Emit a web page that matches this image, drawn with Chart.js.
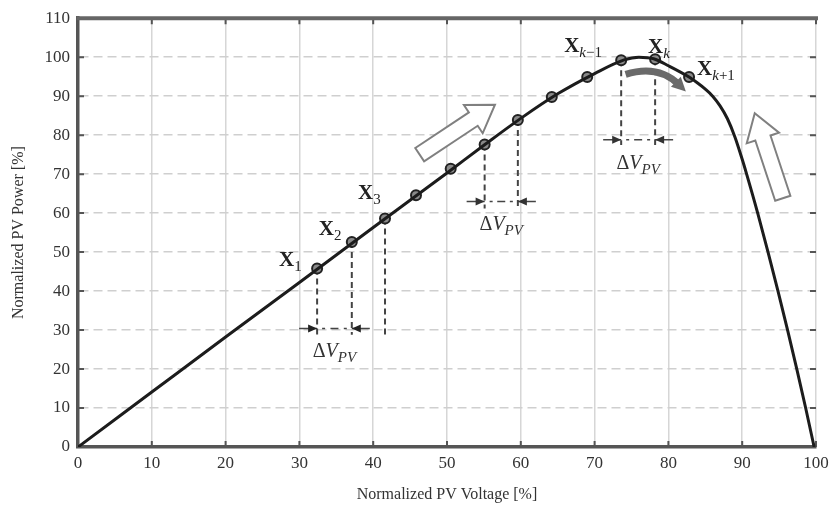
<!DOCTYPE html>
<html>
<head>
<meta charset="utf-8">
<script src="https://cdn.jsdelivr.net/npm/chart.js@4/dist/chart.umd.min.js"></script>
<style>
  body { margin: 0; background: #fff; }
  #wrap { width: 837px; height: 517px; }
</style>
</head>
<body>
<div id="wrap"><canvas id="pv-chart" width="837" height="517"></canvas></div>
<script>
// P-V curve
const voltage = [0, 10, 20, 30, 40, 50, 55, 60, 65, 70, 74, 76, 78, 80, 82.8, 84, 85, 86, 87, 88, 89, 90, 90.6, 92.1, 93.5, 94.85, 96.15, 97.4, 98.6, 99.75];
const power = [0, 14.1, 28.2, 42.2, 56.3, 70.3, 77.4, 84.3, 90.6, 95.8, 99.3, 100, 99.6, 97.8, 94.9, 93.3, 91.8, 90, 87.5, 84.2, 79.6, 73.8, 70, 60, 50, 40, 30, 20, 10, 0];

// operating points of the perturb & observe steps
const stepV = [32.4, 37.1, 41.6, 45.8, 50.5, 55.1, 59.6, 64.2, 69.0, 73.6, 78.2, 82.8];
const stepP = [45.8, 52.6, 58.6, 64.6, 71.4, 77.6, 83.9, 89.8, 94.9, 99.2, 99.5, 94.9];
const stepNames = ["1", "2", "3", "", "", "", "", "", "", "k\u22121", "k", "k+1"];

// delta-V markers: first point, second point, arrow level, dashed line end, extra dashed points
const deltaMarks = [
  { a: 0, b: 1, level: 30.4, end: 28.8, extra: [2] },
  { a: 5, b: 6, level: 63.0, end: 61.2, extra: [] },
  { a: 9, b: 10, level: 78.8, end: 77.5, extra: [] }
];

const xTicks = [0, 10, 20, 30, 40, 50, 60, 70, 80, 90, 100];
const yTicks = [0, 10, 20, 30, 40, 50, 60, 70, 80, 90, 100, 110];

const serif = "'Liberation Serif', 'DejaVu Serif', serif";

function drawXLabel(ctx, x, y, sub) {
  ctx.font = "bold 21px " + serif;
  ctx.fillStyle = "#222";
  ctx.textAlign = "left";
  ctx.textBaseline = "alphabetic";
  ctx.fillText("X", x, y);
  let sx = x + ctx.measureText("X").width;
  // k is italic, digits and signs upright
  for (const ch of sub) {
    ctx.font = (ch === "k" ? "italic " : "") + "15px " + serif;
    ctx.fillText(ch, sx, y + 5);
    sx += ctx.measureText(ch).width;
  }
}

function drawDeltaLabel(ctx, cx, y) {
  ctx.fillStyle = "#333";
  ctx.textBaseline = "alphabetic";
  ctx.font = "20px " + serif;
  const d = ctx.measureText("\u0394").width;
  ctx.font = "italic 20px " + serif;
  const v = ctx.measureText("V").width;
  ctx.font = "italic 15px " + serif;
  const s = ctx.measureText("PV").width;
  const x = cx - (d + v + s) / 2;
  ctx.textAlign = "left";
  ctx.font = "20px " + serif;
  ctx.fillText("\u0394", x, y);
  ctx.font = "italic 20px " + serif;
  ctx.fillText("V", x + d, y);
  ctx.font = "italic 15px " + serif;
  ctx.fillText("PV", x + d + v, y + 5);
}

function arrowHead(ctx, tipX, tipY, dir) {
  ctx.beginPath();
  ctx.moveTo(tipX, tipY);
  ctx.lineTo(tipX - dir * 9, tipY - 4);
  ctx.lineTo(tipX - dir * 9, tipY + 4);
  ctx.closePath();
  ctx.fill();
}

function blockArrow(ctx, x0, y0, x1, y1) {
  const ang = Math.atan2(y1 - y0, x1 - x0);
  const len = Math.hypot(x1 - x0, y1 - y0);
  const headL = 26, shaft = 8, head = 17;
  ctx.save();
  ctx.translate(x0, y0);
  ctx.rotate(ang);
  ctx.beginPath();
  ctx.moveTo(0, -shaft);
  ctx.lineTo(len - headL, -shaft);
  ctx.lineTo(len - headL, -head);
  ctx.lineTo(len, 0);
  ctx.lineTo(len - headL, head);
  ctx.lineTo(len - headL, shaft);
  ctx.lineTo(0, shaft);
  ctx.closePath();
  ctx.fillStyle = "#fff";
  ctx.fill();
  ctx.strokeStyle = "#808080";
  ctx.lineWidth = 2;
  ctx.stroke();
  ctx.restore();
}

const annotations = {
  id: "annotations",
  beforeDatasetsDraw(chart) {
    const { ctx, chartArea: a } = chart;
    const tx = chart.scales.x, ty = chart.scales.y;
    ctx.save();
    // small inner ticks on all sides
    ctx.strokeStyle = "#555";
    ctx.lineWidth = 2;
    xTicks.forEach(v => {
      const px = tx.getPixelForValue(v);
      ctx.beginPath();
      ctx.moveTo(px, a.top); ctx.lineTo(px, a.top + 6);
      ctx.moveTo(px, a.bottom); ctx.lineTo(px, a.bottom - 6);
      ctx.stroke();
    });
    yTicks.forEach(v => {
      const py = ty.getPixelForValue(v);
      ctx.beginPath();
      ctx.moveTo(a.left, py); ctx.lineTo(a.left + 6, py);
      ctx.moveTo(a.right, py); ctx.lineTo(a.right - 6, py);
      ctx.stroke();
    });
    // top frame
    ctx.strokeStyle = "#666";
    ctx.lineWidth = 4;
    ctx.beginPath();
    ctx.moveTo(a.left - 1.5, a.top);
    ctx.lineTo(a.right + 2, a.top);
    ctx.stroke();

    // dashed guides and delta-V arrows
    ctx.strokeStyle = "#444";
    ctx.fillStyle = "#222";
    deltaMarks.forEach(m => {
      const idx = [m.a, m.b].concat(m.extra);
      ctx.setLineDash([6, 4]);
      ctx.lineWidth = 2;
      idx.forEach(i => {
        const px = tx.getPixelForValue(stepV[i]);
        ctx.beginPath();
        ctx.moveTo(px, ty.getPixelForValue(stepP[i]));
        ctx.lineTo(px, ty.getPixelForValue(m.end));
        ctx.stroke();
      });
      const xa = tx.getPixelForValue(stepV[m.a]);
      const xb = tx.getPixelForValue(stepV[m.b]);
      const y = ty.getPixelForValue(m.level);
      ctx.setLineDash([]);
      ctx.lineWidth = 1.5;
      ctx.beginPath();
      ctx.moveTo(xa - 18, y); ctx.lineTo(xa, y);
      ctx.moveTo(xb + 18, y); ctx.lineTo(xb, y);
      const mid = (xa + xb) / 2;
      ctx.moveTo(mid - 4, y); ctx.lineTo(mid + 4, y);
      ctx.moveTo(xa + 5, y); ctx.lineTo(xa + 8, y);
      ctx.moveTo(xb - 8, y); ctx.lineTo(xb - 5, y);
      ctx.stroke();
      arrowHead(ctx, xa, y, 1);
      arrowHead(ctx, xb, y, -1);
      drawDeltaLabel(ctx, mid, y + 29);
    });
    ctx.restore();
  },
  afterDatasetsDraw(chart) {
    const { ctx } = chart;
    const tx = chart.scales.x, ty = chart.scales.y;
    const px = v => tx.getPixelForValue(v);
    const py = v => ty.getPixelForValue(v);
    ctx.save();
    // hollow direction arrows
    blockArrow(ctx, px(46.3), py(75), px(56.5), py(87.8));
    blockArrow(ctx, px(95.5), py(63.8), px(91.7), py(85.6));

    // curved grey arrow under the peak
    const sx = px(74.2), sy = py(95.6);
    const cx = px(78.6), cy = py(98.2);
    const ex = px(81.4), ey = py(93.0);
    ctx.strokeStyle = "#6a6a6a";
    ctx.fillStyle = "#6a6a6a";
    ctx.lineWidth = 7;
    ctx.lineCap = "butt";
    ctx.beginPath();
    ctx.moveTo(sx, sy);
    ctx.quadraticCurveTo(cx, cy, ex, ey);
    ctx.stroke();
    const ang = Math.atan2(ey - cy, ex - cx);
    ctx.save();
    ctx.translate(ex, ey);
    ctx.rotate(ang);
    ctx.beginPath();
    ctx.moveTo(10, 0);
    ctx.lineTo(-4, -7);
    ctx.lineTo(-4, 7);
    ctx.closePath();
    ctx.fill();
    ctx.restore();

    // point names
    const offs = {
      "1": [-38, -2], "2": [-33, -7], "3": [-27, -20],
      "k\u22121": [-57, -8], "k": [-7, -6], "k+1": [8, -2]
    };
    stepNames.forEach((n, i) => {
      if (!n) return;
      const o = offs[n];
      drawXLabel(ctx, px(stepV[i]) + o[0], py(stepP[i]) + o[1], n);
    });
    ctx.restore();
  }
};

const ctx = document.getElementById("pv-chart").getContext("2d");
new Chart(ctx, {
  type: "scatter",
  data: {
    datasets: [
      {
        label: "P-V curve",
        data: voltage.map((v, i) => ({ x: v, y: power[i] })),
        showLine: true,
        borderColor: "#1c1c1c",
        borderWidth: 3,
        pointRadius: 0,
        cubicInterpolationMode: "monotone"
      },
      {
        label: "steps",
        data: stepV.map((v, i) => ({ x: v, y: stepP[i] })),
        showLine: false,
        pointRadius: 5,
        pointBackgroundColor: "#8a8a8a",
        pointBorderColor: "#222",
        pointBorderWidth: 2
      }
    ]
  },
  options: {
    responsive: false,
    animation: false,
    devicePixelRatio: 1,
    layout: { padding: { top: 16, right: 21, left: 0, bottom: 0 } },
    plugins: { legend: { display: false }, tooltip: { enabled: false } },
    scales: {
      x: {
        type: "linear",
        min: 0, max: 100,
        afterFit: s => { s.height = 70; },
        afterBuildTicks: s => { s.ticks = xTicks.map(v => ({ value: v })); },
        ticks: { padding: 6, color: "#333", font: { family: serif, size: 17 } },
        grid: { color: "#d6d6d6", lineWidth: 1.5, drawTicks: false },
        border: { color: "#555", width: 3.5 },
        title: {
          display: true,
          text: "Normalized PV Voltage [%]",
          color: "#333",
          font: { family: serif, size: 16 },
          padding: { top: 0, bottom: 13 }
        }
      },
      y: {
        min: 0, max: 110,
        afterFit: s => { s.width = 78; },
        afterBuildTicks: s => { s.ticks = yTicks.map(v => ({ value: v })); },
        ticks: { padding: 8, color: "#333", font: { family: serif, size: 17 } },
        grid: { color: "#cfcfcf", lineWidth: 1.5, drawTicks: false },
        border: { color: "#555", width: 3.5, dash: [9, 5] },
        title: {
          display: true,
          text: "Normalized PV Power [%]",
          color: "#333",
          font: { family: serif, size: 16 },
          padding: { top: 9, bottom: 0 }
        }
      }
    }
  },
  plugins: [annotations]
});
</script>
</body>
</html>
